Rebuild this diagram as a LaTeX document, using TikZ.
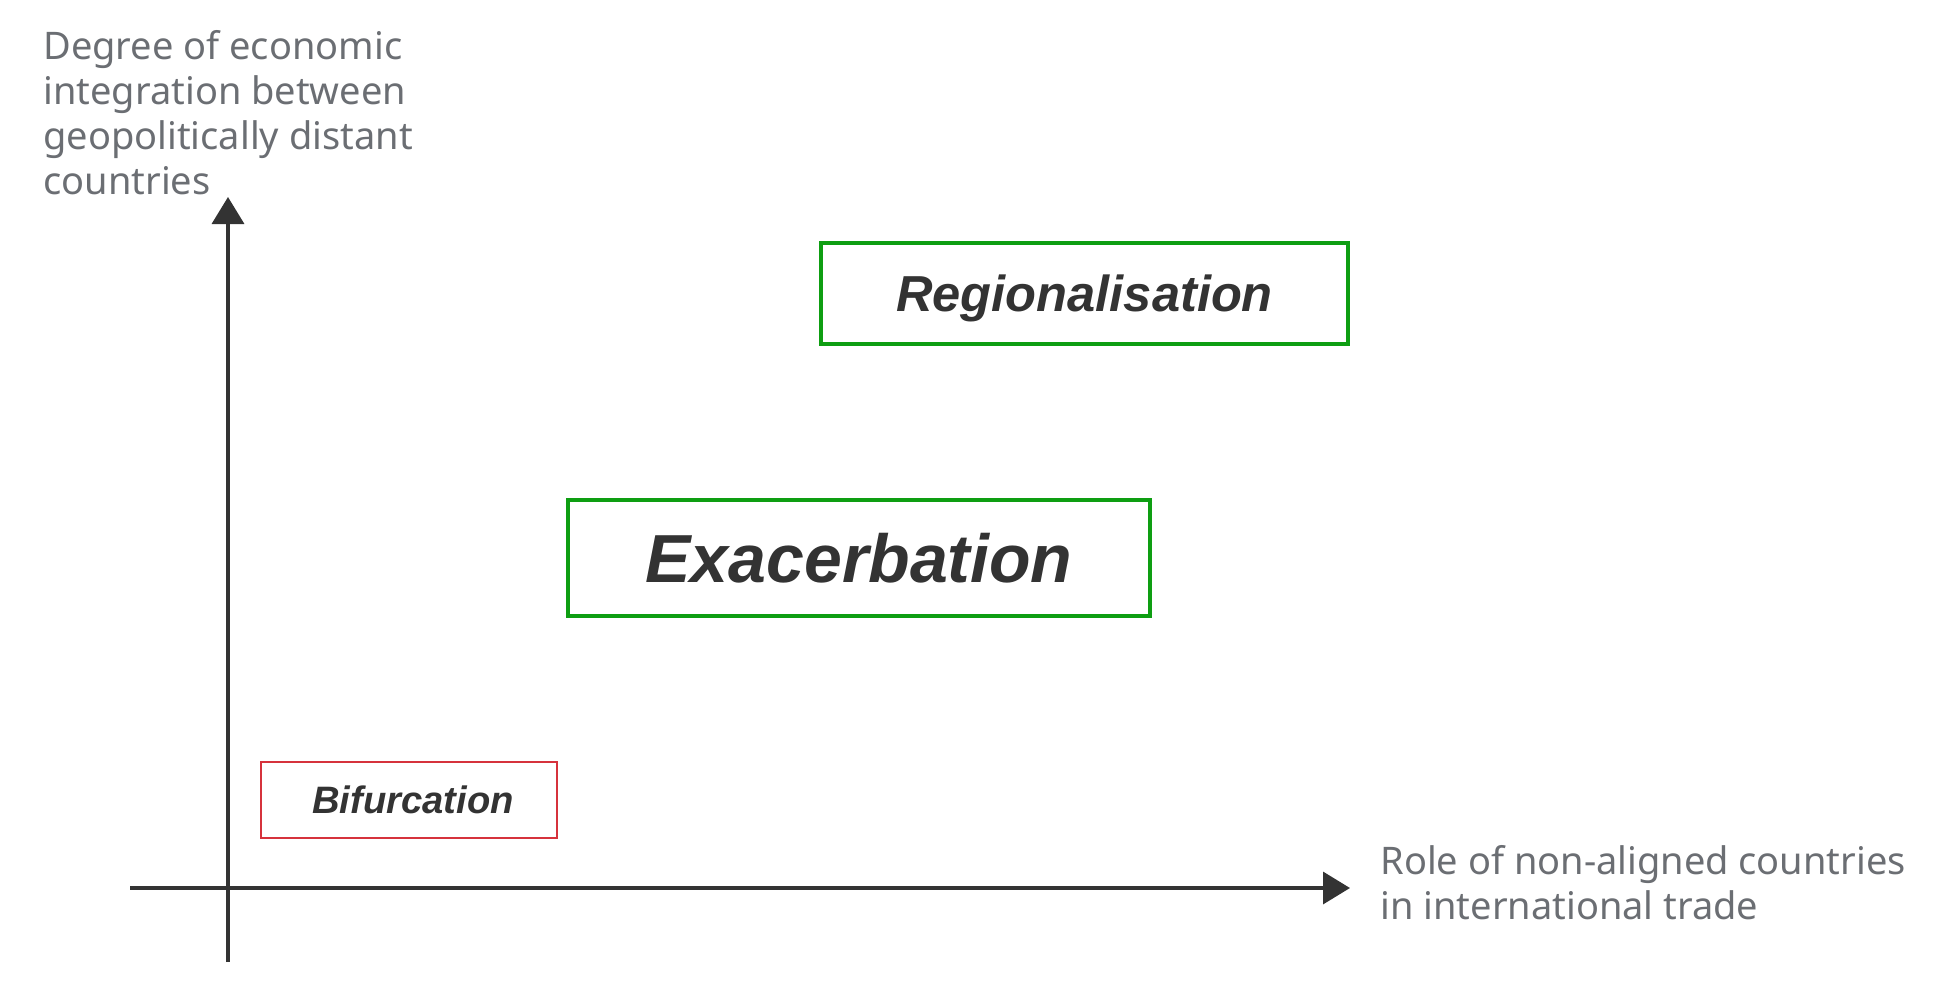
\documentclass[tikz,border=0pt]{standalone}
\usepackage{fontspec}
\setmainfont{Liberation Sans}
\newfontfamily\labelfont{Noto Sans}
\usetikzlibrary{arrows.meta}
\definecolor{axis}{HTML}{333333}
\definecolor{labgray}{HTML}{6B6E73}
\definecolor{boxgreen}{HTML}{0E9E12}
\definecolor{boxred}{HTML}{D6323C}
\definecolor{txtdark}{HTML}{333333}
\tikzset{
  axisline/.style={draw=axis, line width=1.75pt, -{Triangle[length=13.5pt,width=16pt]}},
  axislabel/.style={text=labgray, font=\labelfont\fontsize{19}{22.5}\selectfont, align=left, inner sep=0pt},
  scenario/.style={draw=boxgreen, line width=1.75pt, inner sep=0pt, text=txtdark, text depth=0pt},
  weakscenario/.style={draw=boxred, line width=1.2pt, inner sep=0pt, text=txtdark, text depth=0pt}
}
\begin{document}
\begin{tikzpicture}[x=0.5pt,y=-0.5pt]
\useasboundingbox (0,0) rectangle (1955,1006);
\coordinate (yb) at (228,962);
\coordinate (yt) at (228,197);
\coordinate (xl) at (130,888);
\coordinate (xr) at (1350,888);
\draw[axisline] (yb) -- (yt);
\draw[axisline] (xl) -- (xr);
\node[axislabel, anchor=north west] (ylab) at (43,30) {Degree of economic\\integration between\\geopolitically distant\\countries};
\node[axislabel, anchor=north west] (xlab) at (1380,845) {Role of non-aligned countries\\in international trade};
\node[scenario, minimum width=263.5pt, minimum height=50.5pt, text height=18.2pt,
  font=\fontsize{25.3}{30}\selectfont\bfseries\itshape] (reg) at (1084.5,293.5) {Regionalisation};
\node[scenario, minimum width=291pt, minimum height=58pt, text height=24.3pt,
  font=\fontsize{34}{40}\selectfont\bfseries\itshape] (exa) at (859,558) {Exacerbation};
\node[weakscenario, minimum width=148pt, minimum height=38pt, text height=13.7pt,
  font=\fontsize{19.1}{23}\selectfont\bfseries\itshape] (bif) at (409,800) {\hspace*{4pt}Bifurcation};
\end{tikzpicture}
\end{document}
